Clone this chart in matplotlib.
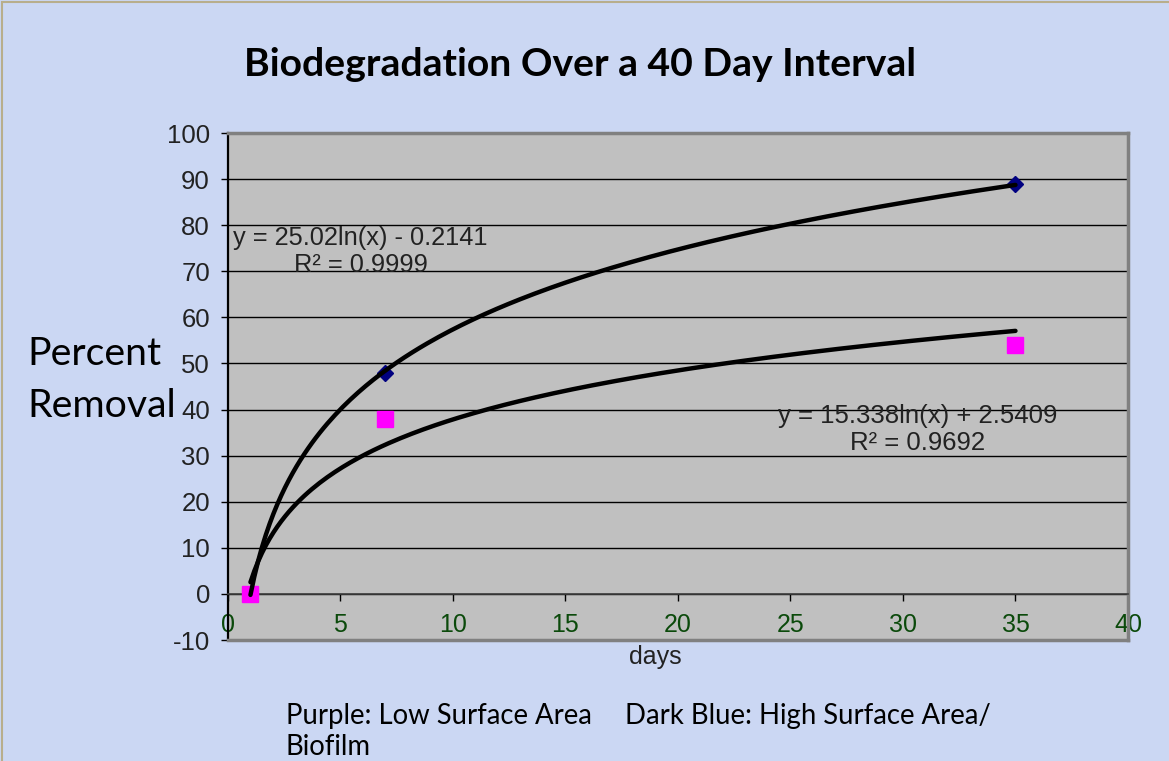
import numpy as np
import matplotlib
matplotlib.use("Agg")
import matplotlib.pyplot as plt
from matplotlib.patches import Rectangle

# data
days = [1, 7, 35]
high_area = [0, 48, 89]   # dark blue diamonds (biofilm)
low_area = [0, 38, 54]    # magenta squares

y_ticks = list(range(-10, 101, 10))
x_ticks = list(range(0, 41, 5))

TITLE = "Biodegradation Over a 40 Day Interval"
EQ_HIGH = "y = 25.02ln(x) - 0.2141\nR² = 0.9999"
EQ_LOW = "y = 15.338ln(x) + 2.5409\nR² = 0.9692"

ARIAL = "Liberation Sans"
CALIBRI = "Lato"
BG = "#CBD7F3"
GRAY = "#808080"

plt.rcParams["axes.unicode_minus"] = False


def log_fit(x, y):
    # same as excel's logarithmic trendline: y = a*ln(x) + b
    a, b = np.polyfit(np.log(x), y, 1)
    xs = np.linspace(min(x), max(x), 200)
    return xs, a * np.log(xs) + b


fig = plt.figure(figsize=(11.69, 7.61), dpi=100, facecolor=BG)
ax = fig.add_axes([0.1950, 0.1590, 0.7699, 0.6662])
ax.set_facecolor("#C0C0C0")

ax.set_xlim(0, 40)
ax.set_ylim(-10, 100)
ax.set_yticks(y_ticks)
ax.set_xticks(x_ticks)
ax.yaxis.grid(True, color="black", lw=1.0)
ax.set_axisbelow(True)

ax.plot(days, high_area, ls="none", marker="D", ms=8, color="#000080", zorder=3)
ax.plot(days, low_area, ls="none", marker="s", ms=11, color="#FF00FF", zorder=3)

xs, ys = log_fit(days, high_area)
ax.plot(xs, ys, color="black", lw=3.2, solid_capstyle="round", zorder=4)
xs, ys = log_fit(days, low_area)
ax.plot(xs, ys, color="black", lw=3.2, solid_capstyle="round", zorder=4)

# spines: x axis crosses at 0, gray frame around the plot area
ax.spines["bottom"].set_position(("data", 0))
ax.spines["bottom"].set_color("#404040")
ax.spines["bottom"].set_linewidth(1.2)
ax.spines["left"].set_color("black")
ax.spines["left"].set_linewidth(1.6)
for side in ["top", "right"]:
    ax.spines[side].set_color(GRAY)
    ax.spines[side].set_linewidth(2.5)
ax.axhline(-10, color=GRAY, lw=2.5, clip_on=False, zorder=5)

ax.tick_params(axis="y", direction="out", length=5, width=1, pad=8,
               labelsize=18.5, labelcolor="#222222")
ax.tick_params(axis="x", direction="out", length=5, width=1, pad=9,
               labelsize=18, labelcolor="#0B4A0B")
for lab in ax.get_xticklabels() + ax.get_yticklabels():
    lab.set_fontfamily(ARIAL)

ax.text(5.9, 74.3, EQ_HIGH, ha="center", va="center", fontsize=18.3,
        family=ARIAL, color="#222222", linespacing=1.15)
ax.text(30.67, 35.6, EQ_LOW, ha="center", va="center", fontsize=18.5,
        family=ARIAL, color="#222222", linespacing=1.15)

fig.text(655 / 1169, 1 - 657 / 761, "days", ha="center", va="center",
         fontsize=18, family=ARIAL, color="#222222")

fig.text(580 / 1169, 1 - 64 / 761, TITLE, ha="center", va="center",
         fontsize=28.2, family=CALIBRI, fontweight="bold", color="black")

fig.text(27 / 1169, 1 - 365 / 761, "Percent", ha="left", va="baseline",
         fontsize=28.3, family=CALIBRI, color="black")
fig.text(27 / 1169, 1 - 417 / 761, "Removal", ha="left", va="baseline",
         fontsize=28.3, family=CALIBRI, color="black")

fig.text(286 / 1169, 1 - 724 / 761, "Purple: Low Surface Area", ha="left",
         va="baseline", fontsize=19.8, family=CALIBRI, color="black")
fig.text(625 / 1169, 1 - 724 / 761, "Dark Blue: High Surface Area/", ha="left",
         va="baseline", fontsize=19.8, family=CALIBRI, color="black")
fig.text(286 / 1169, 1 - 755 / 761, "Biofilm", ha="left",
         va="baseline", fontsize=19.8, family=CALIBRI, color="black")

# thin frame along the top/left edge of the picture
fig.patches.append(Rectangle((0.002, -0.01), 1.2, 1.008, transform=fig.transFigure,
                             fill=False, edgecolor="#B8AE8C", lw=1.5))

fig.savefig("out.png", dpi=100, facecolor=BG)
